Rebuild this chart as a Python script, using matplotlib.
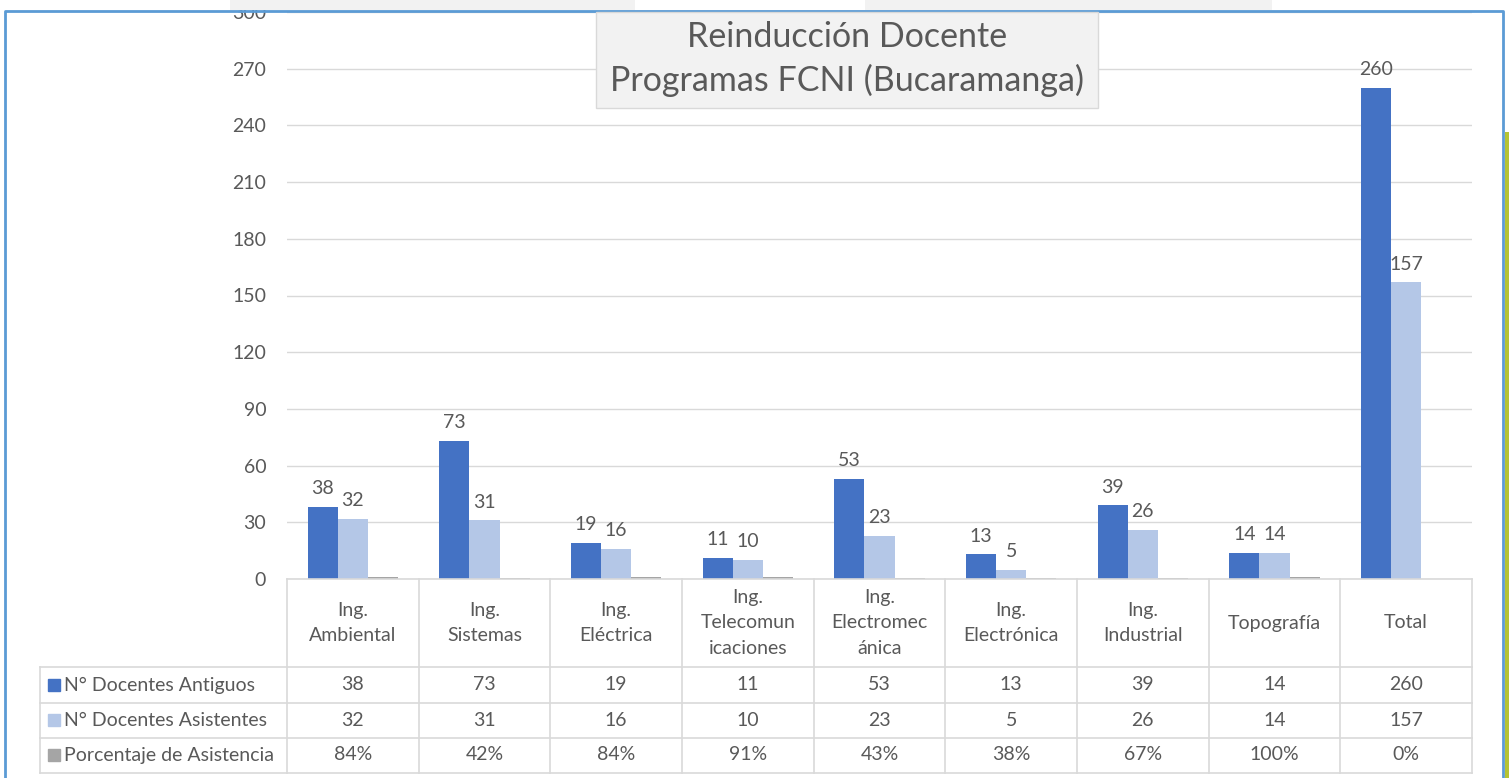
import matplotlib.pyplot as plt
import matplotlib.patches as mpatches
from matplotlib.lines import Line2D
import matplotlib.transforms as mtransforms
import numpy as np

plt.rcParams["font.family"] = ["Lato", "DejaVu Sans"]

categories = ["Ing.\nAmbiental", "Ing.\nSistemas", "Ing.\nEléctrica",
              "Ing.\nTelecomun\nicaciones", "Ing.\nElectromec\nánica",
              "Ing.\nElectrónica", "Ing.\nIndustrial", "Topografía", "Total"]
antiguos = [38, 73, 19, 11, 53, 13, 39, 14, 260]
asistentes = [32, 31, 16, 10, 23, 5, 26, 14, 157]
porcentaje = [0.84, 0.42, 0.84, 0.91, 0.43, 0.38, 0.67, 1.00, 0.0]
series_names = ["N° Docentes Antiguos", "N° Docentes Asistentes", "Porcentaje de Asistencia"]
title = "Reinducción Docente\nProgramas FCNI (Bucaramanga)"

C_DARK = "#4472C4"
C_LIGHT = "#B4C7E7"
C_GRAY = "#A5A5A5"
C_TEXT = "#595959"
C_GRID = "#D9D9D9"
FS = 14

W, H = 1509, 778
fig = plt.figure(figsize=(W / 100, H / 100), dpi=100)

# plot area in pixels
L, R, T, B = 287, 1472, 12, 579
ax = fig.add_axes([L / W, 1 - B / H, (R - L) / W, (B - T) / H])


def axx(px):
    return (px - L) / (R - L)


def axy(py):
    return (B - py) / (B - T)


x = np.arange(len(categories))
bw = 0.228
b1 = ax.bar(x - bw, antiguos, bw, color=C_DARK)
b2 = ax.bar(x, asistentes, bw, color=C_LIGHT)
ax.bar(x + bw, porcentaje, bw, color=C_GRAY)

for bars in (b1, b2):
    for bar in bars:
        h = bar.get_height()
        ax.annotate(f"{h:.0f}", (bar.get_x() + bar.get_width() / 2, h),
                    xytext=(0, 7), textcoords="offset points",
                    ha="center", va="bottom", fontsize=FS, color=C_TEXT)

ax.set_xlim(-0.5, len(categories) - 0.5)
ax.set_ylim(0, 300)
ax.set_yticks(np.arange(0, 301, 30))
ax.tick_params(axis="y", length=0, labelsize=FS, labelcolor=C_TEXT, pad=15)
ax.set_xticks([])
ax.grid(axis="y", color=C_GRID, linewidth=1)
ax.set_axisbelow(True)
for s in ax.spines.values():
    s.set_visible(False)

# data table below the plot
tr = mtransforms.blended_transform_factory(ax.transData, ax.transAxes)
rows_y = [579, 667, 703, 738, 773]
tl = 40
ax.add_line(Line2D([0, 1], [axy(579)] * 2, transform=ax.transAxes, color=C_GRID, lw=1.2, clip_on=False))
for py in rows_y[1:]:
    ax.add_line(Line2D([axx(tl), 1], [axy(py)] * 2, transform=ax.transAxes,
                       color=C_GRID, lw=1.2, clip_on=False))
for xv in np.arange(-0.5, len(categories), 1.0):
    ax.add_line(Line2D([xv, xv], [axy(579), axy(773)], transform=tr,
                       color=C_GRID, lw=1.2, clip_on=False))
ax.add_line(Line2D([axx(tl)] * 2, [axy(667), axy(773)], transform=ax.transAxes,
                   color=C_GRID, lw=1.2, clip_on=False))

# header row
for xi, cat in zip(x, categories):
    ax.text(xi, axy(623), cat, transform=tr, ha="center", va="center",
            fontsize=FS, color=C_TEXT, linespacing=1.6)

# value rows
row_centers = [685, 720, 755]
row_vals = [
    [f"{v}" for v in antiguos],
    [f"{v}" for v in asistentes],
    [f"{v * 100:.0f}%" for v in porcentaje],
]
row_colors = [C_DARK, C_LIGHT, C_GRAY]
for cy, vals, name, col in zip(row_centers, row_vals, series_names, row_colors):
    for xi, v in zip(x, vals):
        ax.text(xi, axy(cy), v, transform=tr, ha="center", va="center",
                fontsize=FS, color=C_TEXT)
    ax.add_patch(mpatches.Rectangle((axx(48), axy(cy + 6)), axx(60) - axx(48), axy(cy - 6) - axy(cy + 6),
                                    transform=ax.transAxes, color=col, clip_on=False))
    ax.text(axx(64), axy(cy), name, transform=ax.transAxes, ha="left", va="center",
            fontsize=FS, color=C_TEXT)

# title box
fig.patches.append(mpatches.Rectangle((596 / W, 1 - 108 / H), (1098 - 596) / W, (108 - 12) / H,
                                      transform=fig.transFigure, facecolor="#F2F2F2",
                                      edgecolor="#D9D9D9", lw=1, zorder=5))
fig.text(847 / W, 1 - 59 / H, title, ha="center", va="center", fontsize=24.5,
         color=C_TEXT, linespacing=1.4, zorder=6)

# surrounding decorations
for x0, x1 in [(230, 635), (865, 1272)]:
    fig.patches.append(mpatches.Rectangle((x0 / W, 1 - 10 / H), (x1 - x0) / W, 10 / H,
                                          transform=fig.transFigure, facecolor="#F2F2F2",
                                          edgecolor="none"))
fig.add_artist(Line2D([5 / W, 5 / W, 1503 / W, 1503 / W], [0, 1 - 11 / H, 1 - 11 / H, 0],
                      transform=fig.transFigure, color="#5B9BD5", lw=2))
fig.patches.append(mpatches.Rectangle((1505 / W, 0), 4 / W, 1 - 132 / H,
                                      transform=fig.transFigure, facecolor="#B5C334",
                                      edgecolor="none"))

fig.savefig("out.png", dpi=100)
